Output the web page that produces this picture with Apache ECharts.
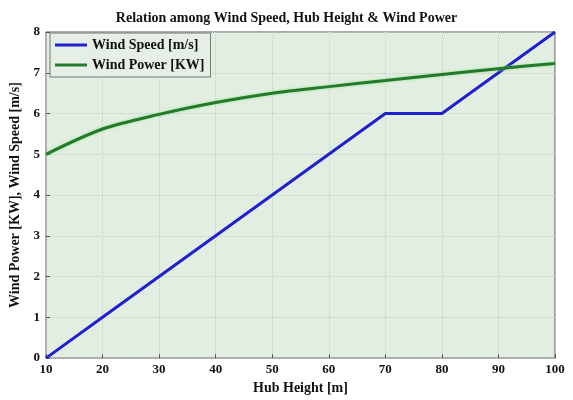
<!DOCTYPE html>
<html>
<head>
<meta charset="utf-8">
<script src="https://cdn.jsdelivr.net/npm/echarts@6/dist/echarts.min.js"></script>
<style>
  html, body { margin: 0; padding: 0; background: #ffffff; }
  #chart { width: 573px; height: 400px; }
</style>
</head>
<body>
<div id="chart"></div>
<script>
// Hub heights [m]
const hubHeight = [10, 20, 30, 40, 50, 60, 70, 80, 90, 100];
// Wind speed at each hub height [m/s]
const windSpeed = [0, 1, 2, 3, 4, 5, 6, 6, 7, 8];
// Wind power at each hub height [KW]
const windPower = [5.0, 5.62, 5.98, 6.27, 6.5, 6.66, 6.81, 6.96, 7.1, 7.23];

const serif = '"Liberation Serif", "DejaVu Serif", serif';

const chart = echarts.init(document.getElementById('chart'), null, { renderer: 'canvas' });

chart.setOption({
  animation: false,
  backgroundColor: '#ffffff',
  title: {
    text: 'Relation among Wind Speed, Hub Height & Wind Power',
    left: 'center',
    top: 6,
    textStyle: { fontFamily: serif, fontWeight: 'bold', fontSize: 14, color: '#111' }
  },
  grid: {
    left: 45, right: 18, top: 32, bottom: 40,
    show: true,
    backgroundColor: '#e3eee3',
    borderColor: '#555',
    borderWidth: 1
  },
  legend: {
    left: 50, top: 33,
    orient: 'vertical',
    itemWidth: 32, itemHeight: 3, itemGap: 6,
    padding: [5, 6, 5, 5],
    backgroundColor: '#e6efe6',
    borderColor: '#777', borderWidth: 1,
    textStyle: { fontFamily: serif, fontWeight: 'bold', fontSize: 14, color: '#111' },
    data: [
      { name: 'Wind Speed [m/s]', icon: 'rect' },
      { name: 'Wind Power [KW]', icon: 'rect' }
    ]
  },
  xAxis: {
    type: 'value',
    min: 10, max: 100, interval: 10,
    name: 'Hub Height [m]',
    nameLocation: 'middle',
    nameGap: 22,
    nameTextStyle: { fontFamily: serif, fontWeight: 'bold', fontSize: 14, color: '#111' },
    axisLine: { show: false },
    axisTick: { show: true, inside: true, length: 4, lineStyle: { color: '#555' } },
    axisLabel: { fontFamily: serif, fontWeight: 'bold', fontSize: 13, color: '#111', margin: 5 },
    splitLine: { show: true, lineStyle: { color: '#c6cec6', type: 'dotted', width: 1 } }
  },
  yAxis: {
    type: 'value',
    min: 0, max: 8, interval: 1,
    name: 'Wind Power [KW], Wind Speed [m/s]',
    nameLocation: 'middle',
    nameGap: 24,
    nameTextStyle: { fontFamily: serif, fontWeight: 'bold', fontSize: 14, color: '#111' },
    axisLine: { show: false },
    axisTick: { show: true, inside: true, length: 4, lineStyle: { color: '#555' } },
    axisLabel: { fontFamily: serif, fontWeight: 'bold', fontSize: 13, color: '#111', margin: 6 },
    splitLine: { show: true, lineStyle: { color: '#c6cec6', type: 'dotted', width: 1 } }
  },
  series: [
    {
      name: 'Wind Speed [m/s]',
      type: 'line',
      data: hubHeight.map((h, i) => [h, windSpeed[i]]),
      showSymbol: false,
      lineStyle: { color: '#2020cc', width: 3 },
      itemStyle: { color: '#2020cc' }
    },
    {
      name: 'Wind Power [KW]',
      type: 'line',
      smooth: 0.3,
      data: hubHeight.map((h, i) => [h, windPower[i]]),
      showSymbol: false,
      lineStyle: { color: '#26782a', width: 3, shadowColor: 'rgba(120,230,120,0.8)', shadowBlur: 3 },
      itemStyle: { color: '#26782a' }
    }
  ]
});
</script>
</body>
</html>
